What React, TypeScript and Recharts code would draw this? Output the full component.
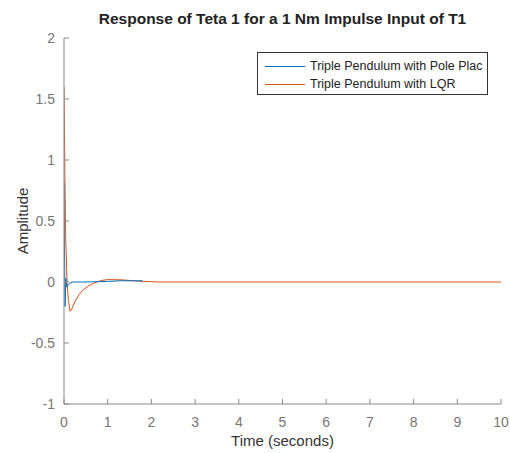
import { LineChart, Line, XAxis, YAxis, Legend } from 'recharts';

// impulse response
const poleTime = [0, 0.01, 0.025, 0.04, 0.06, 0.09, 0.13, 0.2, 0.5, 1.0, 1.3, 1.8];
const poleValue = [0.82, 0.3, -0.2, 0.03, -0.04, -0.03, -0.01, 0, 0, 0.005, 0.01, 0.01];

const lqrTime = [0, 0.02, 0.04, 0.07, 0.1, 0.14, 0.18, 0.25, 0.35, 0.45, 0.55, 0.65, 0.75, 0.85, 1.0, 1.3, 1.6, 1.8, 2.2, 10];
const lqrValue = [1.6, 0.9, 0.35, 0.0, -0.15, -0.24, -0.22, -0.16, -0.1, -0.06, -0.035, -0.015, 0, 0.012, 0.02, 0.018, 0.01, 0.005, 0, 0];

const xTicks = [0, 1, 2, 3, 4, 5, 6, 7, 8, 9, 10];
const yTicks = [-1, -0.5, 0, 0.5, 1, 1.5, 2];

const poleData = poleTime.map((t, i) => ({ t, v: poleValue[i] }));
const lqrData = lqrTime.map((t, i) => ({ t, v: lqrValue[i] }));

const FONT = '"Liberation Sans", Arial, Helvetica, sans-serif';
const AXIS = '#8a8a8a';
const TICK = { fontSize: 14, fill: '#767676', fontFamily: FONT };

// legend lists pole placement first, like the figure
const LegendBox = ({ payload }: any) => (
  <div
    style={{
      border: '1px solid #333',
      background: '#fff',
      width: 231,
      height: 43,
      boxSizing: 'border-box',
      paddingTop: 4,
      fontFamily: FONT,
      fontSize: 12.5,
      color: '#222',
      textAlign: 'left'
    }}
  >
    {[...(payload || [])].reverse().map((p: any) => (
      <div key={p.value} style={{ display: 'flex', alignItems: 'center', height: 18 }}>
        <div style={{ width: 40, height: 1, background: p.color, marginLeft: 7, marginRight: 5 }} />
        <span>{p.value}</span>
      </div>
    ))}
  </div>
);

const AmplitudeLabel = ({ viewBox }: any) => {
  const x = 22;
  const y = viewBox.y + viewBox.height / 2;
  return (
    <text
      x={x}
      y={y}
      transform={`rotate(-90, ${x}, ${y})`}
      textAnchor="middle"
      dominantBaseline="central"
      fontSize={15}
      fontFamily={FONT}
      fill="#333"
    >
      Amplitude
    </text>
  );
};

export default function App() {
  return (
    <div style={{ position: 'absolute', left: 0, top: 0, width: 510, height: 453, background: '#fff' }}>
      <div
        style={{
          position: 'absolute',
          left: 64,
          width: 437,
          top: 10,
          textAlign: 'center',
          fontFamily: FONT,
          fontWeight: 'bold',
          fontSize: 15.5,
          color: '#222'
        }}
      >
        Response of Teta 1 for a 1 Nm Impulse Input of T1
      </div>
      <LineChart width={510} height={453} margin={{ top: 38, right: 9, left: 0, bottom: 0 }}>
        <XAxis
          dataKey="t"
          type="number"
          domain={[0, 10]}
          ticks={xTicks}
          allowDataOverflow
          height={49}
          stroke={AXIS}
          tickSize={-5}
          tickMargin={18}
          tick={TICK}
          label={{ value: 'Time (seconds)', position: 'insideBottom', offset: 7, fontSize: 15, fill: '#333', fontFamily: FONT }}
        />
        <XAxis
          xAxisId="top"
          orientation="top"
          type="number"
          domain={[0, 10]}
          ticks={xTicks}
          height={0}
          stroke={AXIS}
          tickSize={-5}
          tickFormatter={() => ''}
        />
        <YAxis
          type="number"
          domain={[-1, 2]}
          ticks={yTicks}
          allowDataOverflow
          width={64}
          stroke={AXIS}
          tickSize={-5}
          tickMargin={14}
          tick={TICK}
          label={AmplitudeLabel}
        />
        <YAxis
          yAxisId="right"
          orientation="right"
          type="number"
          domain={[-1, 2]}
          ticks={yTicks}
          width={0}
          stroke={AXIS}
          tickSize={-5}
          tickFormatter={() => ''}
        />
        <Legend
          layout="horizontal"
          verticalAlign="middle"
          align="center"
          content={<LegendBox />}
          wrapperStyle={{ position: 'absolute', left: 257, top: 52, width: 231, height: 43, bottom: 'auto', right: 'auto' }}
        />
        <Line
          data={lqrData}
          dataKey="v"
          name="Triple Pendulum with LQR"
          stroke="#D95319"
          strokeWidth={1}
          dot={false}
          type="linear"
          isAnimationActive={false}
        />
        <Line
          data={poleData}
          dataKey="v"
          name="Triple Pendulum with Pole Plac"
          stroke="#0072BD"
          strokeWidth={1}
          dot={false}
          type="linear"
          isAnimationActive={false}
        />
      </LineChart>
    </div>
  );
}
